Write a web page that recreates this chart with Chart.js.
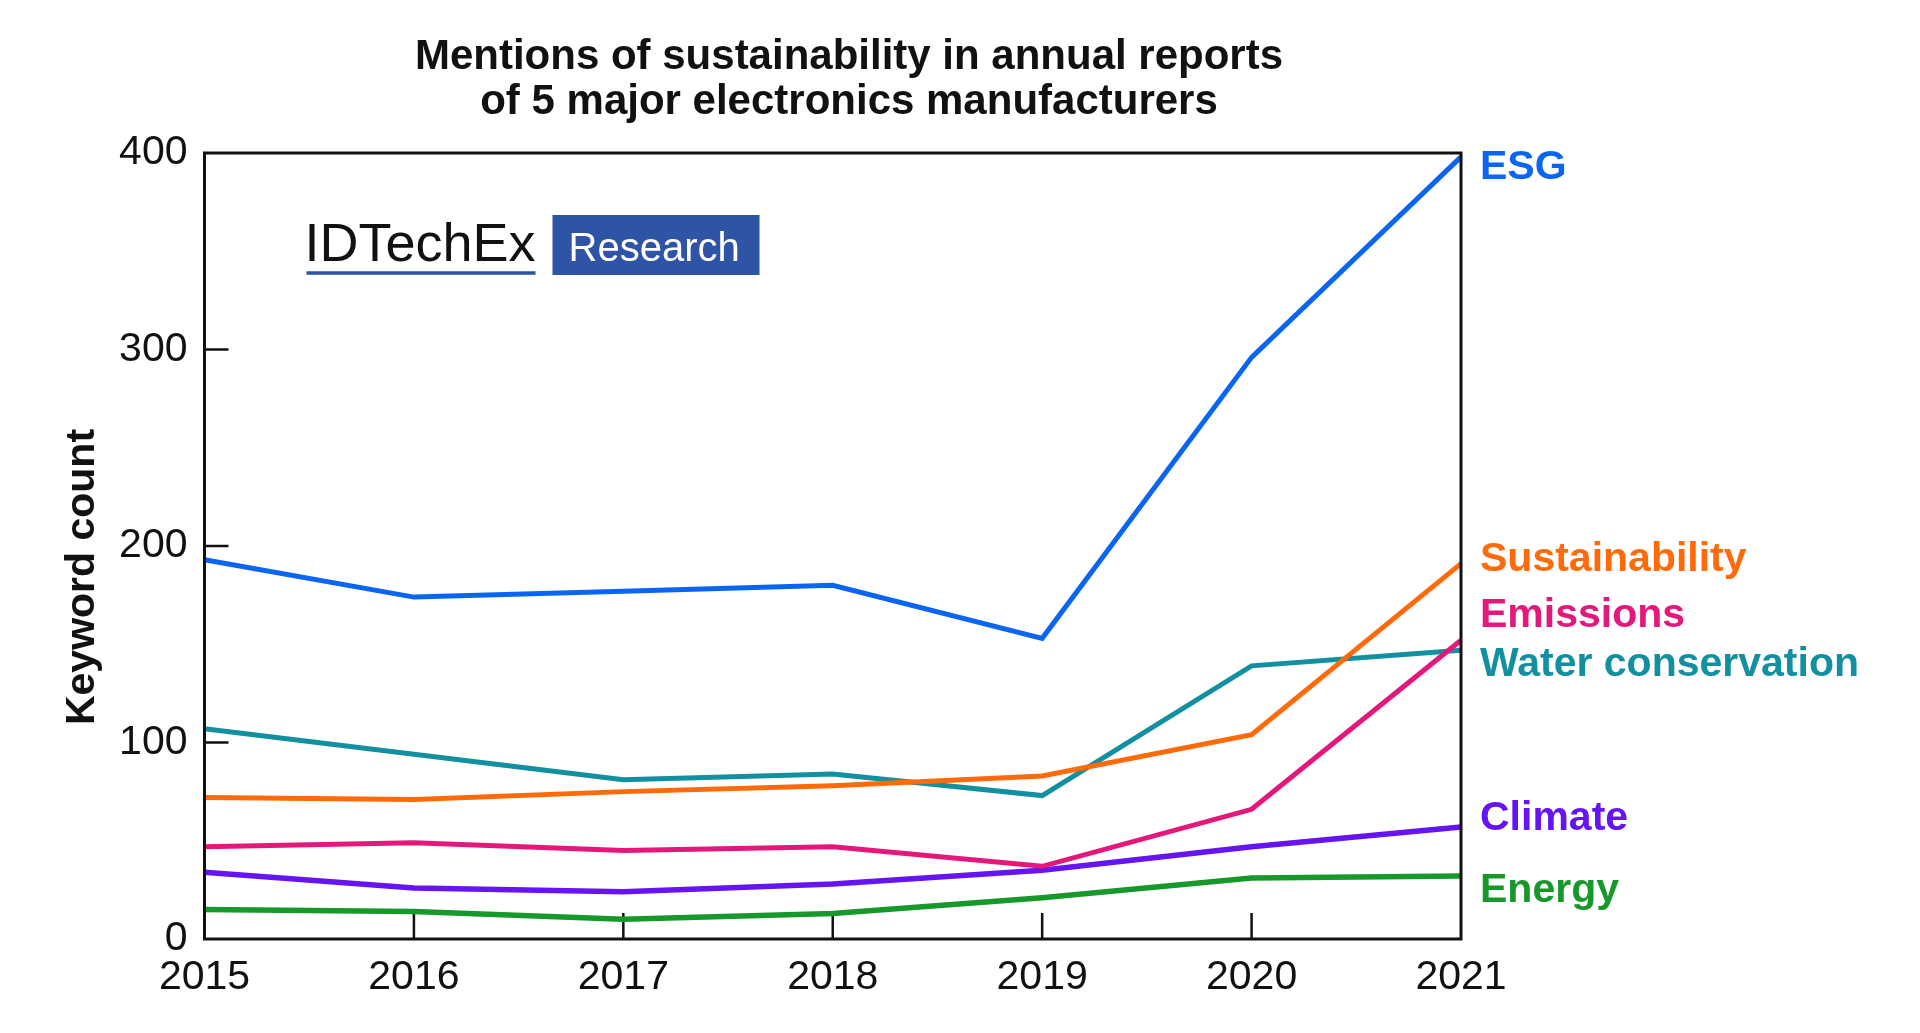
<!DOCTYPE html>
<html>
<head>
<meta charset="utf-8">
<script src="https://cdn.jsdelivr.net/npm/chart.js@4.4.1/dist/chart.umd.min.js"></script>
<style>
  html, body { margin: 0; padding: 0; background: #fff; }
  #wrap { width: 1920px; height: 1033px; position: relative; }
</style>
</head>
<body>
<div id="wrap"><canvas id="myChart"></canvas></div>
<script>
const YEARS = ['2015', '2016', '2017', '2018', '2019', '2020', '2021'];
const Y_TICKS = [0, 100, 200, 300, 400];

const ESG = [193, 174, 177, 180, 153, 296, 398];
const SUSTAINABILITY = [72, 71, 75, 78, 83, 104, 191];
const EMISSIONS = [47, 49, 45, 47, 37, 66, 152];
const WATER = [107, 94, 81, 84, 73, 139, 147];
const CLIMATE = [34, 26, 24, 28, 35, 47, 57];
const ENERGY = [15, 14, 10, 13, 21, 31, 32];

const SERIES_NAMES = ['ESG', 'Sustainability', 'Emissions', 'Water conservation', 'Climate', 'Energy'];
const SERIES_DATA = [ESG, SUSTAINABILITY, EMISSIONS, WATER, CLIMATE, ENERGY];
const COLORS = ['#0a66f2', '#ff6a0a', '#e4187a', '#12909f', '#6614f2', '#16982a'];

const TITLE_LINES = ['Mentions of sustainability in annual reports', 'of 5 major electronics manufacturers'];
const Y_TITLE = 'Keyword count';

const FONT = '"Liberation Sans", Arial, Helvetica, sans-serif';

// vertical nudge (px) of the end labels so they don't collide
const LABEL_NUDGE = [11, -4, -25, 15, -8, 15];

const decorations = {
  id: 'decorations',
  beforeDatasetsDraw(chart) {
    const { ctx, chartArea: a, scales } = chart;
    ctx.save();
    ctx.strokeStyle = '#111';
    ctx.lineWidth = 2.5;
    // inner tick marks
    ctx.beginPath();
    YEARS.forEach((y, i) => {
      if (i === 0 || i === YEARS.length - 1) return;
      const x = scales.x.getPixelForValue(i);
      ctx.moveTo(x, a.bottom);
      ctx.lineTo(x, a.bottom - 26);
    });
    Y_TICKS.forEach((v, i) => {
      if (i === 0 || i === Y_TICKS.length - 1) return;
      const y = scales.y.getPixelForValue(v);
      ctx.moveTo(a.left, y);
      ctx.lineTo(a.left + 24, y);
    });
    ctx.stroke();
    ctx.restore();
  },
  afterDatasetsDraw(chart) {
    const { ctx, chartArea: a, scales } = chart;
    ctx.save();

    // frame
    ctx.strokeStyle = '#111';
    ctx.lineWidth = 3;
    ctx.strokeRect(a.left, a.top, a.right - a.left, a.bottom - a.top);

    // title
    ctx.fillStyle = '#111';
    ctx.textAlign = 'center';
    ctx.textBaseline = 'alphabetic';
    ctx.font = 'bold 42px ' + FONT;
    ctx.fillText(TITLE_LINES[0], 849, 69);
    ctx.fillText(TITLE_LINES[1], 849, 114);

    // y axis title
    ctx.save();
    ctx.translate(83, 577);
    ctx.rotate(-Math.PI / 2);
    ctx.textBaseline = 'middle';
    ctx.font = 'bold 41px ' + FONT;
    ctx.fillText(Y_TITLE, 0, 0);
    ctx.restore();

    // end labels
    ctx.font = 'bold 41px ' + FONT;
    ctx.textAlign = 'left';
    ctx.textBaseline = 'middle';
    SERIES_NAMES.forEach((name, i) => {
      const data = SERIES_DATA[i];
      const y = scales.y.getPixelForValue(data[data.length - 1]) + LABEL_NUDGE[i];
      ctx.fillStyle = COLORS[i];
      ctx.fillText(name, a.right + 19, y);
    });

    // logo
    const lx = a.left + 100, ly = a.top + 108;
    ctx.fillStyle = '#111';
    ctx.font = '54px ' + FONT;
    ctx.textBaseline = 'alphabetic';
    ctx.fillText('IDTechEx', lx, ly);
    ctx.strokeStyle = '#2d52a6';
    ctx.lineWidth = 3.5;
    ctx.beginPath();
    ctx.moveTo(lx + 2, ly + 12);
    ctx.lineTo(lx + 231, ly + 12);
    ctx.stroke();
    ctx.fillStyle = '#2f53a5';
    ctx.fillRect(lx + 248, ly - 46, 207, 60);
    ctx.fillStyle = '#fff';
    ctx.font = '40px ' + FONT;
    ctx.fillText('Research', lx + 264, ly);

    ctx.restore();
  }
};

const ctx = document.getElementById('myChart');

const myChart = new Chart(ctx, {
  type: 'line',
  data: {
    labels: YEARS,
    datasets: SERIES_NAMES.map((name, i) => ({
      label: name,
      data: SERIES_DATA[i],
      borderColor: COLORS[i],
      backgroundColor: COLORS[i],
      borderWidth: i >= 4 ? 5.5 : 5,
      pointRadius: 0,
      tension: 0,
      fill: false,
    })),
  },
  options: {
    responsive: true,
    maintainAspectRatio: false,
    animation: false,
    layout: {
      padding: { top: 153, right: 459, left: 0, bottom: 0 },
    },
    plugins: {
      legend: { display: false },
      title: { display: false },
      tooltip: { enabled: false },
    },
    scales: {
      x: {
        offset: false,
        grid: { display: false, drawTicks: false },
        border: { display: false },
        ticks: {
          color: '#111',
          font: { family: FONT, size: 41 },
          padding: 14,
          maxRotation: 0,
          autoSkip: false,
        },
        afterFit(s) { s.height = 94; },
      },
      y: {
        min: 0,
        max: 400,
        grid: { display: false, drawTicks: false },
        border: { display: false },
        ticks: {
          stepSize: 100,
          color: '#111',
          font: { family: FONT, size: 41 },
          padding: 17,
        },
        afterFit(s) { s.width = 204.5; },
      },
    },
  },
  plugins: [decorations],
});
</script>
</body>
</html>
